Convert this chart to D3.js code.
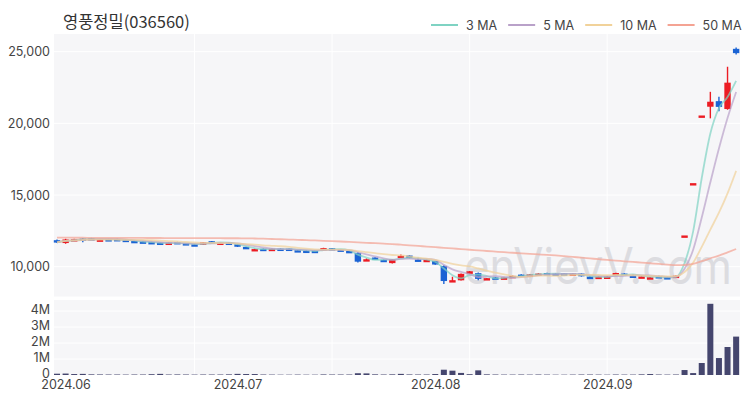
<!DOCTYPE html>
<html>
<head>
<meta charset="utf-8">
<title>영풍정밀(036560)</title>
<script src="https://d3js.org/d3.v7.min.js"></script>
<style>
  body { margin: 0; background: #fff; }
  svg text { font-family: Inter, "Noto Sans CJK KR", sans-serif; }
</style>
</head>
<body>
<svg id="chart" width="750" height="400"></svg>
<script>
// daily candles, 2024.05.31 ~ 2024.09.27 (80 trading days)
const opens = [11850,11650,11850,11960,11980,11850,11920,11930,11880,11800,
  11760,11720,11680,11620,11720,11640,11560,11550,11780,11640,
  11680,11560,11380,11180,11250,11150,11260,11260,11150,11120,
  11110,11150,11290,11200,11100,10950,10480,10640,10480,10250,
  10620,10780,10500,10380,10400,10050,9000,9050,9500,9550,
  9150,9250,9230,9300,9450,9400,9450,9560,9520,9540,
  9480,9520,9300,9250,9260,9430,9520,9380,9300,9230,
  9340,9270,9250,12180,15830,20550,21160,21550,21000,25200];
const highs = [11900,11950,11950,12000,12010,11930,11940,11950,11900,11820,
  11780,11740,11700,11700,11740,11660,11580,11720,11800,11700,
  11700,11580,11400,11250,11270,11270,11280,11280,11170,11140,
  11130,11320,11310,11220,11120,11000,10580,10660,10500,10540,
  10850,10800,10620,10500,10420,10100,9300,9520,9700,9600,
  9220,9270,9270,9380,9470,9480,9540,9580,9540,9560,
  9540,9540,9320,9320,9330,9580,9540,9450,9340,9280,
  9360,9290,9390,12180,15830,20550,22200,21850,23950,25300];
const lows = [11650,11600,11820,11700,11930,11830,11880,11880,11800,11730,
  11680,11660,11580,11600,11640,11530,11520,11530,11700,11620,
  11620,11380,11230,11160,11160,11130,11210,11210,11080,11080,
  11070,11130,11230,11100,11030,10300,10400,10540,10380,10230,
  10600,10580,10380,10360,10130,8800,8980,9030,9480,9050,
  9130,9180,9210,9280,9380,9380,9430,9480,9480,9460,
  9460,9310,9200,9230,9240,9410,9420,9300,9280,9210,
  9260,9210,9230,12180,15830,20550,20350,20850,20950,24800];
const closes = [11700,11900,11920,11930,11950,11900,11900,11900,11820,11750,
  11700,11680,11600,11680,11660,11550,11540,11700,11720,11680,
  11640,11400,11250,11230,11180,11250,11230,11230,11100,11100,
  11090,11300,11250,11120,11050,10350,10520,10560,10400,10520,
  10760,10600,10400,10480,10150,9000,9060,9500,9680,9150,
  9200,9200,9250,9360,9400,9460,9520,9500,9500,9480,
  9520,9330,9220,9300,9310,9560,9440,9370,9320,9260,
  9280,9230,9370,12180,15830,20550,21510,21150,22840,24900];
const volumes = [80000,90000,60000,70000,40000,35000,30000,30000,25000,30000,
  30000,50000,70000,30000,35000,30000,25000,30000,30000,30000,
  40000,70000,60000,60000,30000,25000,20000,20000,25000,20000,
  20000,35000,30000,30000,30000,110000,100000,40000,30000,40000,
  70000,35000,30000,30000,60000,330000,270000,130000,50000,290000,
  40000,30000,25000,25000,30000,25000,30000,25000,20000,20000,
  25000,30000,30000,25000,20000,30000,25000,25000,40000,60000,
  30000,25000,30000,310000,120000,750000,4450000,1060000,1750000,2400000];
// 50-day average as drawn (earlier history is not on the chart)
const ma50 = [12025,12024,12020,12019,12017,12016,12012,12011,12008,12007,
  12005,12002,12001,11998,11997,11994,11993,11990,11988,11987,
  11985,11984,11981,11968,11952,11934,11914,11893,11872,11851,
  11830,11808,11786,11758,11728,11698,11668,11638,11607,11575,
  11535,11492,11448,11404,11360,11316,11272,11228,11184,11140,
  11096,11052,11010,10972,10935,10899,10863,10825,10785,10735,
  10683,10631,10578,10524,10470,10424,10378,10332,10286,10240,
  10194,10150,10106,10120,10205,10385,10585,10778,11005,11235];

const priceTicks = [10000, 15000, 20000, 25000];
const volTicks = [0, 1000000, 2000000, 3000000, 4000000];
const monthLabels = ["2024.06", "2024.07", "2024.08", "2024.09"];
const monthIdx = [1, 21, 44, 64];
const maNames = ["3 MA", "5 MA", "10 MA", "50 MA"];
const maColors = ["#7fd3c3", "#b9a1c9", "#f1d29a", "#f4a393"];
const upColor = "#ec1c24", downColor = "#1b63d4";

var svg = d3.select("#chart");
var L = 54, R = 740, pTop = 34, pBot = 296.5, vTop = 300, vBot = 375;

var x = d3.scaleLinear([-0.35, closes.length - 0.55], [L, R]);
var y = d3.scaleLinear([10000, 25000], [266.7, 51.7]);
var yv = d3.scaleLinear([0, 4000000], [vBot, 311]);

// panels
svg.append("rect").attr("x", L).attr("y", pTop).attr("width", R - L).attr("height", pBot - pTop).attr("fill", "#f6f6f8");
svg.append("rect").attr("x", L).attr("y", vTop).attr("width", R - L).attr("height", vBot - vTop).attr("fill", "#f6f6f8");

// grid
var grid = svg.append("g").attr("stroke", "#fff").attr("stroke-width", 1);
grid.selectAll(".hp").data(priceTicks).join("line")
  .attr("x1", L).attr("x2", R).attr("y1", d => y(d)).attr("y2", d => y(d));
grid.selectAll(".hv").data(volTicks.slice(1)).join("line")
  .attr("x1", L).attr("x2", R).attr("y1", d => yv(d)).attr("y2", d => yv(d));
var vg = d3.range(16, closes.length, 16);
grid.selectAll(".vp").data(vg).join("line")
  .attr("x1", d => x(d)).attr("x2", d => x(d)).attr("y1", pTop).attr("y2", pBot);
grid.selectAll(".vv").data(vg).join("line")
  .attr("x1", d => x(d)).attr("x2", d => x(d)).attr("y1", vTop).attr("y2", vBot);

// watermark
svg.append("text").attr("x", 732).attr("y", 284).attr("text-anchor", "end")
  .attr("font-size", 50).attr("fill", "#d4d4d8").attr("opacity", 0.75)
  .attr("textLength", 268).attr("lengthAdjust", "spacingAndGlyphs")
  .text("enVievV.com");

// axes
function styleAxis(g) {
  g.select(".domain").remove();
  g.selectAll("text").attr("fill", "#444").attr("font-size", 12.5)
    .style("font-family", "Inter, sans-serif");
}
svg.append("g").attr("transform", `translate(${L},0)`)
  .call(d3.axisLeft(y).tickValues(priceTicks).tickSize(0).tickPadding(4).tickFormat(d3.format(",")))
  .call(styleAxis);
svg.append("g").attr("transform", `translate(${L},-2)`)
  .call(d3.axisLeft(yv).tickValues(volTicks).tickSize(0).tickPadding(4)
    .tickFormat(d => d === 0 ? "0" : (d / 1000000) + "M"))
  .call(styleAxis);
svg.append("g").attr("transform", `translate(0,${vBot + 1.5})`)
  .call(d3.axisBottom(x).tickValues(monthIdx).tickSize(0).tickPadding(3.5)
    .tickFormat((d, i) => monthLabels[i]))
  .call(styleAxis);

// volume
svg.append("g").selectAll("rect").data(volumes).join("rect")
  .attr("x", (d, i) => x(i) - 3).attr("width", 6)
  .attr("y", d => yv(d)).attr("height", d => vBot - yv(d))
  .attr("fill", "#45466e");

// candles
var idx = d3.range(closes.length);
var candles = svg.append("g");
candles.selectAll("line").data(idx).join("line")
  .attr("x1", i => x(i)).attr("x2", i => x(i))
  .attr("y1", i => y(highs[i])).attr("y2", i => y(lows[i]))
  .attr("stroke", i => closes[i] >= opens[i] ? upColor : downColor)
  .attr("stroke-width", 1.4);
candles.selectAll("rect").data(idx).join("rect")
  .attr("x", i => x(i) - 3.2).attr("width", 6.4)
  .attr("y", i => y(Math.max(opens[i], closes[i])))
  .attr("height", i => Math.max(2.4, Math.abs(y(opens[i]) - y(closes[i]))))
  .attr("fill", i => closes[i] >= opens[i] ? upColor : downColor);

// moving averages
function movingAvg(n) {
  return closes.map((c, i) => d3.mean(closes.slice(Math.max(0, i - n + 1), i + 1)));
}
var maSeries = [movingAvg(3), movingAvg(5), movingAvg(10), ma50];
var line = d3.line().x((d, i) => x(i)).y(d => y(d)).curve(d3.curveMonotoneX);
svg.append("g").selectAll("path").data(maSeries).join("path")
  .attr("d", line)
  .attr("fill", "none")
  .attr("stroke", (d, i) => maColors[i])
  .attr("stroke-width", 1.8)
  .attr("opacity", 0.7);

// title
svg.append("text").attr("x", 63).attr("y", 28).attr("font-size", 16.5).attr("fill", "#333")
  .style("font-family", "'Noto Sans CJK KR', sans-serif")
  .text("영풍정밀(036560)");

// legend
var cx = 431;
var legend = svg.append("g");
maNames.forEach(function(name, i) {
  legend.append("line").attr("x1", cx).attr("x2", cx + 27).attr("y1", 25).attr("y2", 25)
    .attr("stroke", maColors[i]).attr("stroke-width", 2);
  var t = legend.append("text").attr("x", cx + 35).attr("y", 29.5)
    .attr("font-size", 12.5).attr("fill", "#444").text(name);
  cx += 35 + t.node().getComputedTextLength() + 11;
});
</script>
</body>
</html>
